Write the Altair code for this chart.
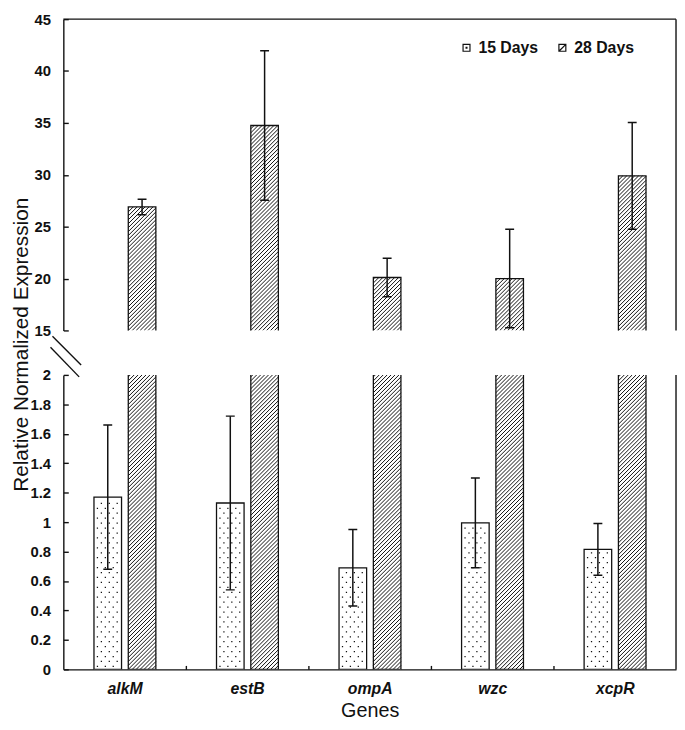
import math
import json
import altair as alt
import pandas as pd

# ---------------- data ----------------
genes = ["alkM", "estB", "ompA", "wzc", "xcpR"]
series = ["15 Days", "28 Days"]
mean_15 = [1.17, 1.13, 0.69, 0.995, 0.815]
err_15 = [0.49, 0.59, 0.26, 0.305, 0.175]
mean_28 = [26.9, 34.75, 20.1, 20.0, 29.9]
err_28 = [0.75, 7.2, 1.85, 4.75, 5.15]
upper_ticks = [15, 20, 25, 30, 35, 40, 45]
lower_ticks = [0, 0.2, 0.4, 0.6, 0.8, 1, 1.2, 1.4, 1.6, 1.8, 2]

# ---------------- layout / style ----------------
W, H1, H2, GAP = 620, 315, 298, 45
FONT = "Liberation Sans"
X_DOM = [-0.5, len(genes) - 0.5]
UP_DOM = [15, 45]
LO_DOM = [0, 2]
BAR_OFF = {"15 Days": (-0.25, -0.025), "28 Days": (0.03, 0.255)}
INK = "#111111"

rows = []
for i, g in enumerate(genes):
    for s, m, e in ((series[0], mean_15[i], err_15[i]), (series[1], mean_28[i], err_28[i])):
        a, b = BAR_OFF[s]
        rows.append(dict(gene=g, series=s, value=m, lo=m - e, hi=m + e,
                         x0=i + a, x1=i + b, xc=i + (a + b) / 2))
bars = pd.DataFrame(rows)
PXX = W / (X_DOM[1] - X_DOM[0])


def hatch_lines(df, ydom, h, step=4.0):
    """45-degree hatch segments inside each visible bar (derived from bar values)."""
    pxy = h / (ydom[1] - ydom[0])
    out = []
    for r in df.itertuples():
        top, bot = min(r.value, ydom[1]), ydom[0]
        if top <= bot:
            continue
        w, hh = (r.x1 - r.x0) * PXX, (top - bot) * pxy
        for k in range(math.ceil(-w / step), math.floor(hh / step) + 1):
            c = k * step
            us, ue = max(0.0, -c), min(w, hh - c)
            if ue - us < 0.3:
                continue
            out.append(dict(hx=r.x0 + us / PXX, hy=bot + (us + c) / pxy,
                            hx2=r.x0 + ue / PXX, hy2=bot + (ue + c) / pxy))
    return pd.DataFrame(out)


def dot_grid(df, ydom, h, dx=8.0, dy=5.0):
    """Staggered dot fill inside each visible bar (derived from bar values)."""
    pxy = h / (ydom[1] - ydom[0])
    out = []
    for r in df.itertuples():
        top, bot = min(r.value, ydom[1]), ydom[0]
        if top <= bot:
            continue
        w, hh = (r.x1 - r.x0) * PXX, (top - bot) * pxy
        v, row = 3.0, 0
        while v < hh - 2:
            u = 3.5 + (dx / 2 if row % 2 else 0)
            while u < w - 2:
                out.append(dict(px=r.x0 + u / PXX, py=bot + v / pxy))
                u += dx
            v += dy
            row += 1
    return pd.DataFrame(out)


b15 = bars[bars.series == "15 Days"]
b28 = bars[bars.series == "28 Days"]
one = pd.DataFrame({"k": [0]})

xs = alt.Scale(domain=X_DOM, nice=False, zero=False)


def y_label_axis(vals, fmt, title=None, **kw):
    return alt.Axis(orient="left", values=vals, format=fmt, ticks=False, grid=False,
                    domain=True, domainColor=INK, domainWidth=1.4,
                    labelPadding=13, labelFont=FONT, labelFontSize=15,
                    labelFontWeight="bold", labelColor=INK, title=title, **kw)


def y_tick_axis(vals):
    return alt.Axis(orient="right", offset=-W, values=vals, ticks=True, tickSize=5,
                    tickWidth=1.4, tickColor=INK, labels=False, domain=False,
                    grid=False, title=None)


def panel(ydom, h, yvals, left_axis, dots, extra_x_axes=False):
    ys = alt.Scale(domain=ydom, nice=False, zero=False)
    x_main = alt.Axis(orient="bottom", values=list(range(len(genes))),
                      labelExpr=f"{json.dumps(genes)}[datum.value]",
                      ticks=False, grid=False, domain=True, domainColor=INK, domainWidth=1.4,
                      labelPadding=11, labelFont=FONT, labelFontSize=16,
                      labelFontStyle="italic", labelFontWeight="bold", labelColor=INK,
                      title="Genes", titleFont=FONT, titleFontSize=20,
                      titleFontWeight="normal", titleColor=INK, titlePadding=5) if extra_x_axes else None
    x_ticks = alt.Axis(orient="top", offset=-h, values=[i + 0.5 for i in range(len(genes) - 1)],
                       ticks=True, tickSize=4, tickWidth=1.4, tickColor=INK, labels=False,
                       domain=False, grid=False, title=None) if extra_x_axes else None

    fill = alt.Chart(bars).mark_rect(fill="white", clip=True).encode(
        x=alt.X("x0:Q", scale=xs, axis=x_main), x2="x1:Q",
        y=alt.Y("value:Q", scale=ys, axis=left_axis), y2=alt.datum(0))
    hat = hatch_lines(b28, ydom, h)
    hatch = alt.Chart(hat).mark_rule(color=INK, strokeWidth=1.0, clip=True).encode(
        x=alt.X("hx:Q", scale=xs, axis=x_ticks), x2="hx2:Q",
        y=alt.Y("hy:Q", scale=ys, axis=y_tick_axis(yvals)), y2="hy2:Q")
    layers = [fill, hatch]
    if dots:
        dd = dot_grid(b15, ydom, h)
        layers.append(alt.Chart(dd).mark_square(color=INK, size=1.6, opacity=1, clip=True).encode(
            x=alt.X("px:Q", scale=xs, axis=None), y=alt.Y("py:Q", scale=ys, axis=None)))
    outline = alt.Chart(bars).mark_rect(fillOpacity=0, stroke=INK, strokeWidth=1.3, clip=True).encode(
        x=alt.X("x0:Q", scale=xs, axis=None), x2="x1:Q",
        y=alt.Y("value:Q", scale=ys, axis=None), y2=alt.datum(0))
    err = alt.Chart(bars).mark_rule(color=INK, strokeWidth=1.5, clip=True).encode(
        x=alt.X("xc:Q", scale=xs, axis=None),
        y=alt.Y("lo:Q", scale=ys, axis=None), y2="hi:Q")
    cap_hi = alt.Chart(bars).mark_tick(orient="horizontal", size=9, thickness=1.5,
                                       color=INK, opacity=1, clip=True).encode(
        x=alt.X("xc:Q", scale=xs, axis=None), y=alt.Y("hi:Q", scale=ys, axis=None))
    cap_lo = alt.Chart(bars).mark_tick(orient="horizontal", size=9, thickness=1.5,
                                       color=INK, opacity=1, clip=True).encode(
        x=alt.X("xc:Q", scale=xs, axis=None), y=alt.Y("lo:Q", scale=ys, axis=None))
    layers += [outline, err, cap_hi, cap_lo]
    # right frame line
    layers.append(alt.Chart(one).mark_rule(color=INK, strokeWidth=1.4).encode(
        x=alt.value(W), y=alt.value(0), y2=alt.value(h)))
    return layers


# ---------- upper panel (15-45) ----------
upper_layers = panel(UP_DOM, H1, upper_ticks,
                     y_label_axis(upper_ticks, "d", title="Relative Normalized Expression",
                                  titleX=-42, titleY=(H1 + GAP + H2) / 2, titleAngle=270,
                                  titleAlign="center", titleBaseline="middle", titleFont=FONT,
                                  titleFontSize=21, titleFontWeight="normal", titleColor=INK),
                     dots=False)
upper_layers.append(alt.Chart(one).mark_rule(color=INK, strokeWidth=1.4).encode(
    x=alt.value(0), x2=alt.value(W), y=alt.value(0)))
shape_15 = "M-1,-1H1V1H-1Z M-0.12,-0.12H0.12V0.12H-0.12Z"
shape_28 = "M-1,-1H1V1H-1Z M-1,1L1,-1"
legend_layer = alt.Chart(b15).mark_point(filled=False, color=INK, strokeWidth=1.2,
                                         size=49, clip=True).encode(
    x=alt.X("xc:Q", scale=xs, axis=None),
    y=alt.Y("value:Q", scale=alt.Scale(domain=UP_DOM, nice=False, zero=False), axis=None),
    shape=alt.Shape("series:N", scale=alt.Scale(domain=series, range=[shape_15, shape_28]),
                    legend=alt.Legend(orient="none", legendX=400, legendY=21,
                                      direction="horizontal", title=None, padding=0,
                                      labelFont=FONT, labelFontSize=16, labelFontWeight="bold",
                                      labelColor=INK, symbolSize=49, symbolStrokeWidth=1.2,
                                      symbolStrokeColor=INK, symbolFillColor="white",
                                      symbolOpacity=1, labelOffset=4, columnPadding=16)))
upper_layers.append(legend_layer)
upper = alt.layer(*upper_layers).resolve_axis(x="independent", y="independent").properties(
    width=W, height=H1)

# ---------- lower panel (0-2) ----------
lower_layers = panel(LO_DOM, H2, lower_ticks,
                     y_label_axis(lower_ticks, "~g"), dots=True, extra_x_axes=True)
# axis-break marks
lower_layers.append(alt.Chart(one).mark_rule(color=INK, strokeWidth=1.4).encode(
    x=alt.value(-11), y=alt.value(-39), x2=alt.value(18), y2=alt.value(-10)))
lower_layers.append(alt.Chart(one).mark_rule(color=INK, strokeWidth=1.4).encode(
    x=alt.value(-13), y=alt.value(-28), x2=alt.value(16), y2=alt.value(2)))
lower = alt.layer(*lower_layers).resolve_axis(x="independent", y="independent").properties(
    width=W, height=H2)

chart = alt.vconcat(upper, lower, spacing=GAP, bounds="flush").properties(
    padding={"left": 3, "top": 0, "right": 0, "bottom": 0},
    background="white").configure_view(stroke=None)

chart.save("out.html", embed_options={"renderer": "svg", "actions": False})
